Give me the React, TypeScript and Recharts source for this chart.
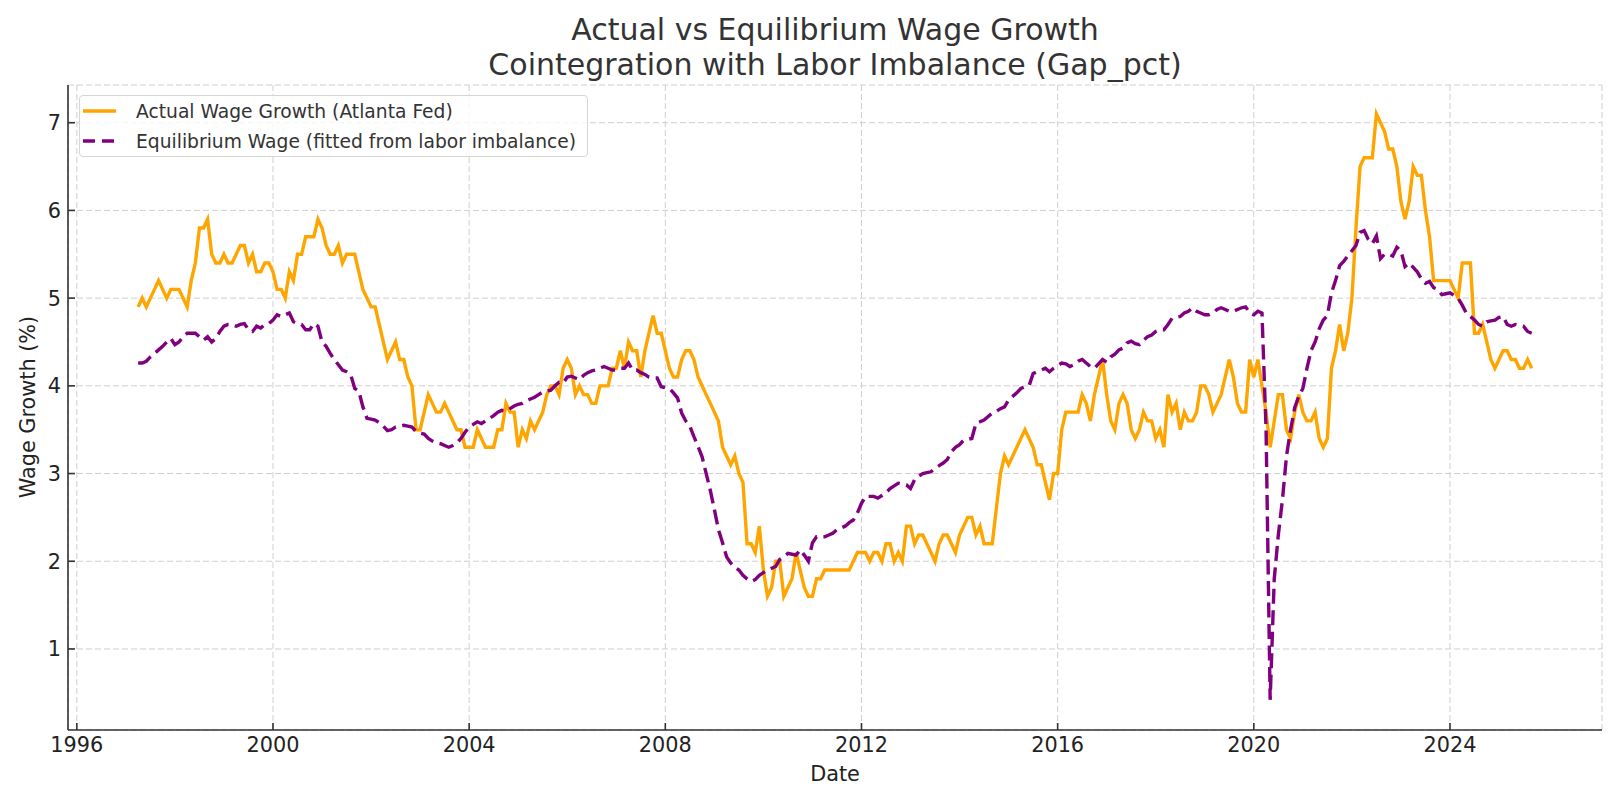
import { LineChart, Line, XAxis, YAxis, CartesianGrid, Legend } from 'recharts'

const FONT = '"DejaVu Sans", Verdana, sans-serif'

// monthly observations, first one is April 1997
const firstYear = 1997
const firstMonth = 4

// Atlanta Fed wage growth tracker, one row per calendar year (%)
const actualWage: number[][] = [
  [4.9, 5.0, 4.9, 5.0, 5.1, 5.2, 5.1, 5.0, 5.1],
  [5.1, 5.1, 5.0, 4.9, 5.2, 5.4, 5.8, 5.8, 5.9, 5.5, 5.4, 5.4],
  [5.5, 5.4, 5.4, 5.5, 5.6, 5.6, 5.4, 5.5, 5.3, 5.3, 5.4, 5.4],
  [5.3, 5.1, 5.1, 5.0, 5.3, 5.2, 5.5, 5.5, 5.7, 5.7, 5.7, 5.9],
  [5.8, 5.6, 5.5, 5.5, 5.6, 5.4, 5.5, 5.5, 5.5, 5.3, 5.1, 5.0],
  [4.9, 4.9, 4.7, 4.5, 4.3, 4.4, 4.5, 4.3, 4.3, 4.1, 4.0, 3.5],
  [3.5, 3.7, 3.9, 3.8, 3.7, 3.7, 3.8, 3.7, 3.6, 3.5, 3.5, 3.3],
  [3.3, 3.3, 3.5, 3.4, 3.3, 3.3, 3.3, 3.5, 3.5, 3.8, 3.7, 3.7],
  [3.3, 3.5, 3.4, 3.6, 3.5, 3.6, 3.7, 3.9, 4.0, 4.0, 3.9, 4.2],
  [4.3, 4.2, 3.9, 4.0, 3.9, 3.9, 3.8, 3.8, 4.0, 4.0, 4.0, 4.2],
  [4.2, 4.4, 4.2, 4.5, 4.4, 4.4, 4.1, 4.4, 4.6, 4.8, 4.6, 4.6],
  [4.4, 4.2, 4.1, 4.1, 4.3, 4.4, 4.4, 4.3, 4.1, 4.0, 3.9, 3.8],
  [3.7, 3.6, 3.3, 3.2, 3.1, 3.2, 3.0, 2.9, 2.2, 2.2, 2.1, 2.4],
  [1.9, 1.6, 1.7, 2.0, 2.0, 1.6, 1.7, 1.8, 2.1, 1.9, 1.7, 1.6],
  [1.6, 1.8, 1.8, 1.9, 1.9, 1.9, 1.9, 1.9, 1.9, 1.9, 2.0, 2.1],
  [2.1, 2.1, 2.0, 2.1, 2.1, 2.0, 2.2, 2.2, 2.0, 2.1, 2.0, 2.4],
  [2.4, 2.2, 2.3, 2.3, 2.2, 2.1, 2.0, 2.2, 2.3, 2.3, 2.2, 2.1],
  [2.3, 2.4, 2.5, 2.5, 2.3, 2.4, 2.2, 2.2, 2.2, 2.6, 3.0, 3.2],
  [3.1, 3.2, 3.3, 3.4, 3.5, 3.4, 3.3, 3.1, 3.1, 2.9, 2.7, 3.0],
  [3.0, 3.5, 3.7, 3.7, 3.7, 3.7, 3.9, 3.8, 3.6, 3.9, 4.1, 4.3],
  [3.9, 3.6, 3.5, 3.8, 3.9, 3.8, 3.5, 3.4, 3.5, 3.7, 3.6, 3.6],
  [3.4, 3.5, 3.3, 3.9, 3.7, 3.8, 3.5, 3.7, 3.6, 3.6, 3.7, 4.0],
  [4.0, 3.9, 3.7, 3.8, 3.9, 4.1, 4.3, 4.1, 3.8, 3.7, 3.7, 4.3],
  [4.1, 4.3, 4.0, 3.7, 3.3, 3.6, 3.9, 3.9, 3.5, 3.4, 3.7, 3.9],
  [3.7, 3.6, 3.6, 3.7, 3.4, 3.3, 3.4, 4.2, 4.4, 4.7, 4.4, 4.6],
  [5.0, 5.8, 6.5, 6.6, 6.6, 6.6, 7.1, 7.0, 6.9, 6.7, 6.7, 6.5],
  [6.1, 5.9, 6.1, 6.5, 6.4, 6.4, 6.0, 5.7, 5.2, 5.2, 5.2, 5.2],
  [5.2, 5.1, 5.0, 5.4, 5.4, 5.4, 4.6, 4.6, 4.7, 4.5, 4.3, 4.2],
  [4.3, 4.4, 4.4, 4.3, 4.3, 4.2, 4.2, 4.3, 4.2],
]

// equilibrium wage fitted from labor imbalance, same months (%)
const equilibriumWage: number[][] = [
  [4.26, 4.26, 4.28, 4.33, 4.37, 4.41, 4.45, 4.5, 4.54],
  [4.47, 4.5, 4.56, 4.6, 4.6, 4.6, 4.56, 4.52, 4.56, 4.5, 4.54, 4.62],
  [4.68, 4.7, 4.7, 4.68, 4.7, 4.71, 4.64, 4.62, 4.68, 4.66, 4.7, 4.71],
  [4.75, 4.81, 4.79, 4.81, 4.83, 4.73, 4.71, 4.7, 4.64, 4.64, 4.71, 4.68],
  [4.5, 4.45, 4.37, 4.3, 4.24, 4.18, 4.16, 4.13, 3.97, 3.94, 3.76, 3.63],
  [3.62, 3.61, 3.58, 3.54, 3.49, 3.5, 3.53, 3.54, 3.55, 3.54, 3.53, 3.48],
  [3.46, 3.45, 3.4, 3.37, 3.35, 3.34, 3.32, 3.3, 3.32, 3.35, 3.4, 3.47],
  [3.53, 3.56, 3.59, 3.57, 3.6, 3.63, 3.66, 3.7, 3.72, 3.71, 3.74, 3.77],
  [3.79, 3.8, 3.83, 3.85, 3.87, 3.9, 3.93, 3.94, 3.95, 4.0, 4.04, 4.03],
  [4.1, 4.11, 4.09, 4.07, 4.12, 4.15, 4.17, 4.18, 4.2, 4.22, 4.2, 4.18],
  [4.18, 4.2, 4.2, 4.26, 4.18, 4.18, 4.15, 4.13, 4.1, 4.09, 4.09, 3.99],
  [3.98, 3.97, 3.92, 3.86, 3.69, 3.6, 3.54, 3.42, 3.31, 3.19, 3.0, 2.81],
  [2.59, 2.36, 2.21, 2.05, 1.98, 1.93, 1.9, 1.84, 1.8, 1.77, 1.79, 1.84],
  [1.87, 1.9, 1.92, 1.94, 2.02, 2.05, 2.09, 2.08, 2.07, 2.13, 2.07, 2.0],
  [2.21, 2.28, 2.28, 2.28, 2.3, 2.32, 2.36, 2.38, 2.4, 2.44, 2.47, 2.55],
  [2.66, 2.74, 2.74, 2.74, 2.72, 2.75, 2.78, 2.83, 2.86, 2.89, 2.88, 2.87],
  [2.83, 2.93, 2.97, 3.0, 3.01, 3.02, 3.06, 3.09, 3.12, 3.16, 3.25, 3.3],
  [3.33, 3.38, 3.39, 3.4, 3.57, 3.59, 3.61, 3.65, 3.69, 3.71, 3.74, 3.76],
  [3.84, 3.88, 3.92, 3.97, 3.99, 4.0, 4.14, 4.16, 4.18, 4.2, 4.16, 4.2],
  [4.23, 4.26, 4.25, 4.22, 4.24, 4.28, 4.3, 4.26, 4.22, 4.2, 4.25, 4.3],
  [4.27, 4.33, 4.36, 4.41, 4.43, 4.49, 4.51, 4.48, 4.47, 4.52, 4.56, 4.58],
  [4.62, 4.64, 4.64, 4.7, 4.77, 4.78, 4.79, 4.83, 4.85, 4.89, 4.85, 4.83],
  [4.81, 4.81, 4.83, 4.87, 4.89, 4.87, 4.85, 4.85, 4.87, 4.89, 4.9, 4.83],
  [4.81, 4.85, 4.83, 3.5, 0.42, 1.8, 2.3, 2.7, 3.2, 3.5, 3.75, 3.88],
  [3.97, 4.2, 4.4, 4.5, 4.65, 4.75, 4.8, 5.06, 5.2, 5.37, 5.42, 5.48],
  [5.54, 5.6, 5.75, 5.77, 5.67, 5.62, 5.71, 5.45, 5.5, 5.5, 5.48, 5.58],
  [5.54, 5.36, 5.4, 5.35, 5.3, 5.22, 5.17, 5.19, 5.12, 5.1, 5.04, 5.05],
  [5.06, 5.03, 5.0, 4.92, 4.83, 4.79, 4.75, 4.7, 4.68, 4.73, 4.74, 4.75],
  [4.78, 4.79, 4.7, 4.68, 4.7, 4.69, 4.68, 4.62, 4.6],
]

const xTicks = [1996, 2000, 2004, 2008, 2012, 2016, 2020, 2024]
const yTicks = [1, 2, 3, 4, 5, 6, 7]

const seriesNames = {
  actual: 'Actual Wage Growth (Atlanta Fed)',
  equilibrium: 'Equilibrium Wage (fitted from labor imbalance)',
}

const ORANGE = '#FFA500'
const PURPLE = '#800080'
const AXIS = '#333333'

function buildRows() {
  const a = actualWage.flat()
  const e = equilibriumWage.flat()
  return a.map((v, i) => {
    const m = firstMonth - 1 + i
    return { t: firstYear + m / 12, actual: v, equilibrium: e[i] }
  })
}

const rows = buildRows()

function DateTick({ x, y, payload }: any) {
  return (
    <g>
      <line x1={x} y1={y} x2={x} y2={y - 7} stroke={AXIS} strokeWidth={1.6} />
      <text x={x} y={y + 22} textAnchor="middle" fontSize={20.8} fill="#222" fontFamily={FONT}>
        {payload.value}
      </text>
    </g>
  )
}

function ValueTick({ x, y, payload }: any) {
  return (
    <g>
      <line x1={x} y1={y} x2={x + 7} y2={y} stroke={AXIS} strokeWidth={1.6} />
      <text x={x - 7} y={y} dy="0.36em" textAnchor="end" fontSize={20.8} fill="#222" fontFamily={FONT}>
        {payload.value}
      </text>
    </g>
  )
}

function WageLegend() {
  const items = [
    { key: 'actual', color: ORANGE, dash: undefined },
    { key: 'equilibrium', color: PURPLE, dash: '12 7' },
  ]
  return (
    <div
      style={{
        boxSizing: 'border-box',
        width: 509,
        height: 62,
        border: '1px solid #d6d6d6',
        borderRadius: 4,
        background: 'rgba(255,255,255,0.8)',
        fontFamily: FONT,
        fontSize: 18.7,
        color: '#333',
      }}
    >
      {items.map((it) => (
        <div key={it.key} style={{ display: 'flex', alignItems: 'center', height: 30, whiteSpace: 'nowrap' }}>
          <svg width={33} height={10} style={{ marginLeft: 3, marginRight: 20 }}>
            <line x1={0} y1={5} x2={33} y2={5} stroke={it.color} strokeWidth={3.6} strokeDasharray={it.dash} />
          </svg>
          <span>{seriesNames[it.key as keyof typeof seriesNames]}</span>
        </div>
      ))}
    </div>
  )
}

export default function App() {
  return (
    <div style={{ position: 'absolute', left: 0, top: 0, width: 1621, height: 808, background: '#fff', fontFamily: FONT }}>
      <div
        style={{
          position: 'absolute',
          left: 68,
          top: 12,
          width: 1534,
          textAlign: 'center',
          fontSize: 30,
          lineHeight: '35px',
          color: '#333',
        }}
      >
        <div>Actual vs Equilibrium Wage Growth</div>
        <div>Cointegration with Labor Imbalance (Gap_pct)</div>
      </div>

      <LineChart width={1621} height={808} data={rows} margin={{ top: 85, right: 19, bottom: 0, left: 8 }}>
        <CartesianGrid stroke="#cfcfcf" strokeDasharray="6 3" strokeWidth={1} />
        <XAxis
          dataKey="t"
          type="number"
          domain={[1995.82, 2027.1]}
          ticks={xTicks}
          allowDataOverflow
          height={78}
          tickSize={0}
          tickMargin={0}
          tickLine={false}
          tick={<DateTick />}
          axisLine={{ stroke: AXIS, strokeWidth: 1.6 }}
        />
        <YAxis
          type="number"
          domain={[0.076, 7.43]}
          ticks={yTicks}
          allowDataOverflow
          width={60}
          tickSize={0}
          tickMargin={0}
          tickLine={false}
          tick={<ValueTick />}
          axisLine={{ stroke: AXIS, strokeWidth: 1.6 }}
        />
        <Legend
          layout="vertical"
          align="center"
          verticalAlign="middle"
          wrapperStyle={{ left: 79, top: 95, width: 509 }}
          content={<WageLegend />}
        />
        <Line
          type="linear"
          dataKey="actual"
          name={seriesNames.actual}
          stroke={ORANGE}
          strokeWidth={3.4}
          dot={false}
          isAnimationActive={false}
        />
        <Line
          type="linear"
          dataKey="equilibrium"
          name={seriesNames.equilibrium}
          stroke={PURPLE}
          strokeWidth={3.4}
          strokeDasharray="15 6.5"
          dot={false}
          isAnimationActive={false}
        />
      </LineChart>

      <div
        style={{
          position: 'absolute',
          left: 68,
          width: 1534,
          top: 760,
          textAlign: 'center',
          fontSize: 20.8,
          lineHeight: '28px',
          color: '#222',
        }}
      >
        Date
      </div>
      <div
        style={{
          position: 'absolute',
          left: 28,
          top: 407,
          transform: 'translate(-50%, -50%) rotate(-90deg)',
          fontSize: 20.8,
          lineHeight: '28px',
          whiteSpace: 'nowrap',
          color: '#222',
        }}
      >
        Wage Growth (%)
      </div>
    </div>
  )
}
